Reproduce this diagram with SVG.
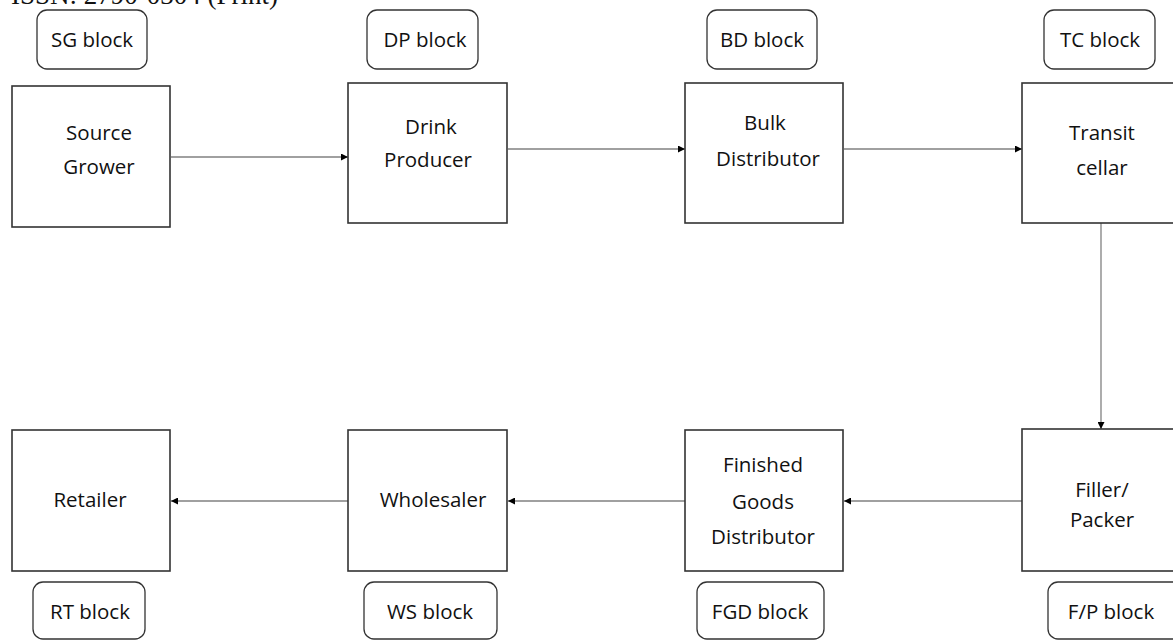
<svg xmlns="http://www.w3.org/2000/svg" width="1173" height="642" viewBox="0 0 1173 642">
<style>
.box{fill:#fff;stroke:#333;stroke-width:1.6}
.tag{fill:#fff;stroke:#333;stroke-width:1.3}
.t{font-family:"Open Sans","Liberation Sans",sans-serif;font-size:20.5px;fill:#111;text-anchor:middle}
.c{stroke:#808080;stroke-width:1.3;fill:none;marker-end:url(#ah)}
.hdr{font-family:"Liberation Serif",serif;font-size:27px;fill:#111;text-anchor:end}
</style>
<defs>
<marker id="ah" viewBox="0 0 10 10" refX="10" refY="5" markerWidth="7" markerHeight="7" markerUnits="userSpaceOnUse" orient="auto">
<path d="M0,0 L10,5 L0,10 Z" fill="#000"/>
</marker>
</defs>
<rect width="1173" height="642" fill="#fff"/>
<text class="hdr" x="278" y="4">ISSN: 2790-0304 (Print)</text>

<g id="connectors">
<line class="c" x1="171" y1="157" x2="348" y2="157"/>
<line class="c" x1="508" y1="149" x2="685" y2="149"/>
<line class="c" x1="844" y1="149" x2="1022" y2="149"/>
<line class="c" x1="1101" y1="223" x2="1101" y2="429"/>
<line class="c" x1="1022" y1="501" x2="844" y2="501"/>
<line class="c" x1="685" y1="501" x2="508" y2="501"/>
<line class="c" x1="348" y1="501" x2="171" y2="501"/>
</g>

<g id="sg-tag"><rect class="tag" x="37" y="10" width="110" height="59" rx="10"/><text class="t" x="92" y="47">SG block</text></g>
<g id="dp-tag"><rect class="tag" x="367" y="10" width="111" height="59" rx="10"/><text class="t" x="425" y="47">DP block</text></g>
<g id="bd-tag"><rect class="tag" x="707" y="10" width="110" height="59" rx="10"/><text class="t" x="762" y="47">BD block</text></g>
<g id="tc-tag"><rect class="tag" x="1044" y="10" width="111" height="59" rx="10"/><text class="t" x="1100" y="47">TC block</text></g>

<g id="source-grower"><rect class="box" x="12" y="86" width="158" height="141"/><text class="t" x="99" y="140">Source</text><text class="t" x="99" y="174">Grower</text></g>
<g id="drink-producer"><rect class="box" x="348" y="83" width="159" height="140"/><text class="t" x="431" y="134">Drink</text><text class="t" x="428" y="167">Producer</text></g>
<g id="bulk-distributor"><rect class="box" x="685" y="83" width="158" height="140"/><text class="t" x="765" y="130">Bulk</text><text class="t" x="768" y="166">Distributor</text></g>
<g id="transit-cellar"><rect class="box" x="1022" y="83" width="162" height="140"/><text class="t" x="1102" y="140">Transit</text><text class="t" x="1102" y="175">cellar</text></g>

<g id="filler-packer"><rect class="box" x="1022" y="429" width="162" height="142"/><text class="t" x="1102" y="497">Filler/</text><text class="t" x="1102" y="527">Packer</text></g>
<g id="finished-goods-distributor"><rect class="box" x="685" y="430" width="158" height="141"/><text class="t" x="763" y="472">Finished</text><text class="t" x="763" y="509">Goods</text><text class="t" x="763" y="544">Distributor</text></g>
<g id="wholesaler"><rect class="box" x="348" y="430" width="159" height="141"/><text class="t" x="433" y="507">Wholesaler</text></g>
<g id="retailer"><rect class="box" x="12" y="430" width="158" height="141"/><text class="t" x="90" y="507">Retailer</text></g>

<g id="rt-tag"><rect class="tag" x="33" y="582" width="112" height="57" rx="10"/><text class="t" x="90" y="619">RT block</text></g>
<g id="ws-tag"><rect class="tag" x="364" y="582" width="133" height="57" rx="10"/><text class="t" x="430" y="619">WS block</text></g>
<g id="fgd-tag"><rect class="tag" x="697" y="582" width="127" height="57" rx="10"/><text class="t" x="760" y="619">FGD block</text></g>
<g id="fp-tag"><rect class="tag" x="1048" y="582" width="135" height="57" rx="10"/><text class="t" x="1111" y="619">F/P block</text></g>
</svg>
